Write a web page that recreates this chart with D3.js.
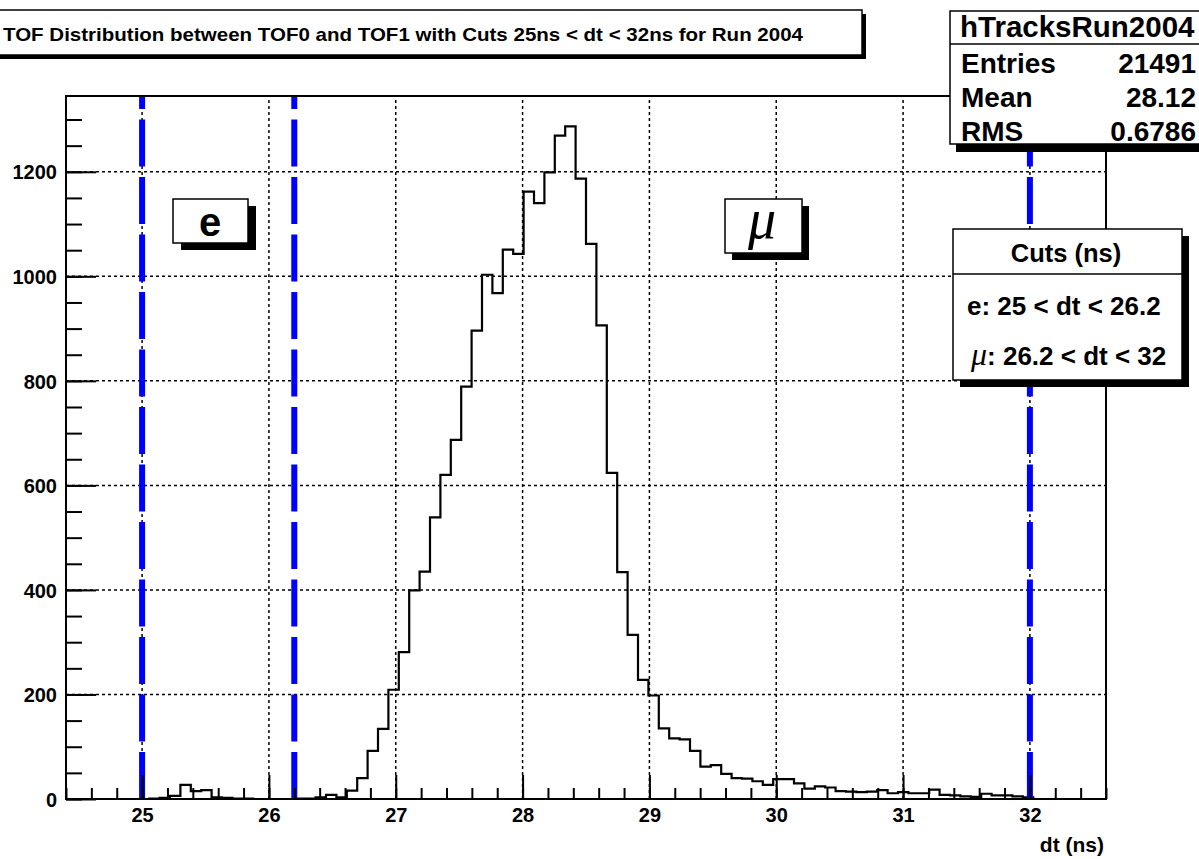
<!DOCTYPE html>
<html>
<head>
<meta charset="utf-8">
<script src="https://cdn.jsdelivr.net/npm/d3@7"></script>
<style>
  body { margin: 0; background: #fff; }
  svg { display: block; }
  text { font-family: "Liberation Sans", Arial, Helvetica, sans-serif; font-weight: bold; fill: #000; }
  .greek { font-family: "Liberation Serif", "Times New Roman", serif; font-style: italic; font-weight: normal; }
</style>
</head>
<body>
<svg id="chart" width="1199" height="859"></svg>
<script>

// histogram: 100 bins between histMin and histMax
const histMin = 24.4;
const histMax = 32.6;
const counts = [
    0, 0, 0, 0, 0, 0, 0, 0, 1, 2,
    6, 27, 15, 17, 3, 2, 1, 1, 0, 0,
    0, 0, 1, 1, 3, 8, 3, 16, 40, 92,
    134, 209, 281, 399, 435, 539, 620, 687, 789, 896,
    1003, 968, 1051, 1043, 1162, 1140, 1199, 1269, 1287, 1187,
    1062, 906, 624, 434, 314, 228, 198, 135, 116, 114,
    92, 62, 65, 48, 40, 39, 34, 27, 38, 38,
    30, 20, 24, 22, 15, 14, 13, 14, 17, 11,
    13, 11, 11, 18, 8, 7, 5, 4, 10, 7,
    7, 5, 3, 0, 0, 0, 0, 0, 0, 0
];

const cuts = [25, 26.2, 32];
const xTicks = [25, 26, 27, 28, 29, 30, 31, 32];
const yTicks = [0, 200, 400, 600, 800, 1000, 1200];
const yMax = 1345;

const titleText = "TOF Distribution between TOF0 and TOF1 with Cuts 25ns < dt < 32ns for Run 2004";
const statsName = "hTracksRun2004";
const statsLabels = ["Entries", "Mean", "RMS"];
const statsValues = ["21491", "28.12", "0.6786"];
const cutsHeader = "Cuts (ns)";
const cutsRows = ["e: 25 < dt < 26.2", ": 26.2 < dt < 32"];
const xTitle = "dt (ns)";

const svg = d3.select("#chart");

const padLeft = 66, padRight = 1106, padTop = 96, padBottom = 799;

var xScale = d3.scaleLinear().domain([histMin, histMax]).range([padLeft, padRight]);
var yScale = d3.scaleLinear().domain([0, yMax]).range([padBottom, padTop]);

// grid
svg.selectAll(".vgrid")
   .data(xTicks)
   .enter()
   .append("line")
   .attr("x1", d => xScale(d))
   .attr("x2", d => xScale(d))
   .attr("y1", padBottom)
   .attr("y2", padTop)
   .attr("stroke", "#000")
   .attr("stroke-width", 1.5)
   .attr("stroke-dasharray", "3,3");

svg.selectAll(".hgrid")
   .data(yTicks.filter(d => d > 0))
   .enter()
   .append("line")
   .attr("x1", padLeft)
   .attr("x2", padRight)
   .attr("y1", d => yScale(d))
   .attr("y2", d => yScale(d))
   .attr("stroke", "#000")
   .attr("stroke-width", 1.5)
   .attr("stroke-dasharray", "3,3");

// histogram outline
var binWidth = (histMax - histMin) / counts.length;
var pts = counts.map((c, i) => [histMin + i * binWidth, c]);
pts.push([histMax, counts[counts.length - 1]]);

var line = d3.line()
             .x(d => xScale(d[0]))
             .y(d => yScale(d[1]))
             .curve(d3.curveStepAfter);

svg.append("path")
   .datum(pts)
   .attr("d", line)
   .attr("fill", "none")
   .attr("stroke", "#000")
   .attr("stroke-width", 2.2);

// cut lines (drawn from the bottom up so the dashes line up with the axis)
svg.selectAll(".cut")
   .data(cuts)
   .enter()
   .append("line")
   .attr("x1", d => xScale(d))
   .attr("x2", d => xScale(d))
   .attr("y1", padBottom)
   .attr("y2", padTop)
   .attr("stroke", "#0000ff")
   .attr("stroke-width", 6)
   .attr("stroke-dasharray", "47,10.5");

// axes
var xMinor = d3.range(0, 42).map(i => +(histMin + i * 0.2).toFixed(1));
var yMinor = d3.range(0, 27).map(i => i * 50);

var gx = svg.append("g").attr("transform", `translate(0,${padBottom})`);
gx.call(d3.axisBottom(xScale).tickValues(xMinor).tickSizeInner(-11).tickSizeOuter(0).tickFormat(""));
var gx2 = svg.append("g").attr("transform", `translate(0,${padBottom})`);
gx2.call(d3.axisBottom(xScale).tickValues(xTicks).tickSizeInner(-24).tickSizeOuter(0).tickPadding(9).tickFormat(d3.format("d")));

var gy = svg.append("g").attr("transform", `translate(${padLeft},0)`);
gy.call(d3.axisLeft(yScale).tickValues(yMinor).tickSizeInner(-16).tickSizeOuter(0).tickFormat(""));
var gy2 = svg.append("g").attr("transform", `translate(${padLeft},0)`);
gy2.call(d3.axisLeft(yScale).tickValues(yTicks).tickSizeInner(-30).tickSizeOuter(0).tickPadding(9).tickFormat(d3.format("d")));

svg.selectAll(".domain").remove();
svg.selectAll(".tick line").attr("stroke", "#000").attr("stroke-width", 2);
svg.selectAll(".tick text")
   .attr("font-size", 20)
   .attr("fill", "#000");
gy2.selectAll(".tick text").attr("dy", "0.36em");

// frame
svg.append("rect")
   .attr("x", padLeft).attr("y", padTop)
   .attr("width", padRight - padLeft).attr("height", padBottom - padTop)
   .attr("fill", "none")
   .attr("stroke", "#000")
   .attr("stroke-width", 2);

svg.append("text")
   .attr("x", 1104)
   .attr("y", 852)
   .attr("text-anchor", "end")
   .attr("font-size", 21)
   .text(xTitle);

// helper for ROOT style boxes with shadow
function shadowBox(x, y, w, h, dx, dy) {
    svg.append("rect").attr("x", x + dx).attr("y", y + dy).attr("width", w).attr("height", h).attr("fill", "#000");
    svg.append("rect").attr("x", x).attr("y", y).attr("width", w).attr("height", h)
       .attr("fill", "#fff").attr("stroke", "#000").attr("stroke-width", 1.5);
}

// title
shadowBox(-5, 10, 867, 45, 4, 4);
svg.append("text")
   .attr("x", 3)
   .attr("y", 41)
   .attr("font-size", 19)
   .attr("textLength", 800)
   .attr("lengthAdjust", "spacingAndGlyphs")
   .text(titleText);

// stats box
shadowBox(950, 11, 260, 133, 6, 8);
svg.append("line").attr("x1", 950).attr("x2", 1199).attr("y1", 44).attr("y2", 44)
   .attr("stroke", "#000").attr("stroke-width", 1.5);
svg.append("text").attr("x", 960).attr("y", 37).attr("font-size", 29.5).text(statsName);
svg.selectAll(".slabel")
   .data(statsLabels)
   .enter()
   .append("text")
   .attr("x", 961)
   .attr("y", (d, i) => 73 + i * 34)
   .attr("font-size", 28)
   .text(d => d);
svg.selectAll(".svalue")
   .data(statsValues)
   .enter()
   .append("text")
   .attr("x", 1196)
   .attr("y", (d, i) => 73 + i * 34)
   .attr("text-anchor", "end")
   .attr("font-size", 28)
   .text(d => d);

// cuts box
shadowBox(953, 229, 229, 151, 7, 7);
svg.append("line").attr("x1", 953).attr("x2", 1182).attr("y1", 274).attr("y2", 274)
   .attr("stroke", "#000").attr("stroke-width", 1.5);
svg.append("text").attr("x", 1066).attr("y", 262).attr("text-anchor", "middle")
   .attr("font-size", 25.5).text(cutsHeader);
svg.append("text").attr("x", 967).attr("y", 315).attr("font-size", 26).text(cutsRows[0]);
var mrow = svg.append("text").attr("x", 971).attr("y", 365).attr("font-size", 26);
mrow.append("tspan")
    .attr("class", "greek")
    .attr("font-size", 32)
    .text("\u03bc");
mrow.append("tspan").text(cutsRows[1]);

// particle labels
shadowBox(173, 199, 75, 44, 8, 7);
svg.append("text").attr("x", 210).attr("y", 236).attr("text-anchor", "middle")
   .attr("font-size", 40).text("e");

shadowBox(725, 199, 77, 54, 7, 7);
svg.append("text").attr("x", 762).attr("y", 238).attr("text-anchor", "middle")
   .attr("class", "greek")
   .attr("font-size", 56)
   .text("\u03bc");

</script>
</body>
</html>
